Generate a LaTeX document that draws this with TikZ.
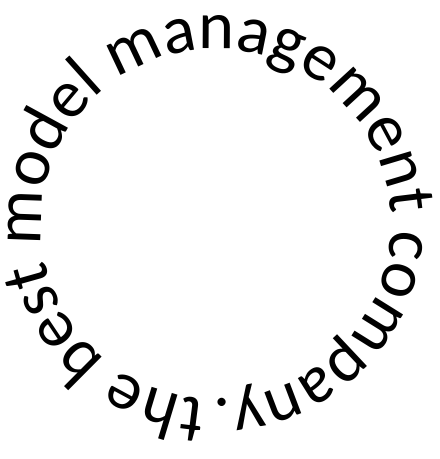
\documentclass[tikz,border=0pt]{standalone}
\usepackage{fontspec}
\setmainfont{Carlito}
\usetikzlibrary{decorations.text}
\tikzset{
  ringtext/.style={decorate, decoration={text along path, text align=left,
      text={|\fontsize{68.3}{74}\selectfont|#1}}}
}

\begin{document}
\begin{tikzpicture}
            % Frame to ensure alignment:
            \useasboundingbox                                                 (0pt, 0pt) rectangle (440pt, 459pt);
            \coordinate (centre) at (216pt, 235pt);
            % Ring text, clockwise from the bottom
            \path[ringtext={the best model management company.}]
                 (centre) ++(-93.5:175pt) arc[start angle=-93.5, end angle=-453.5, radius=175pt];
        \end{tikzpicture}
\end{document}
